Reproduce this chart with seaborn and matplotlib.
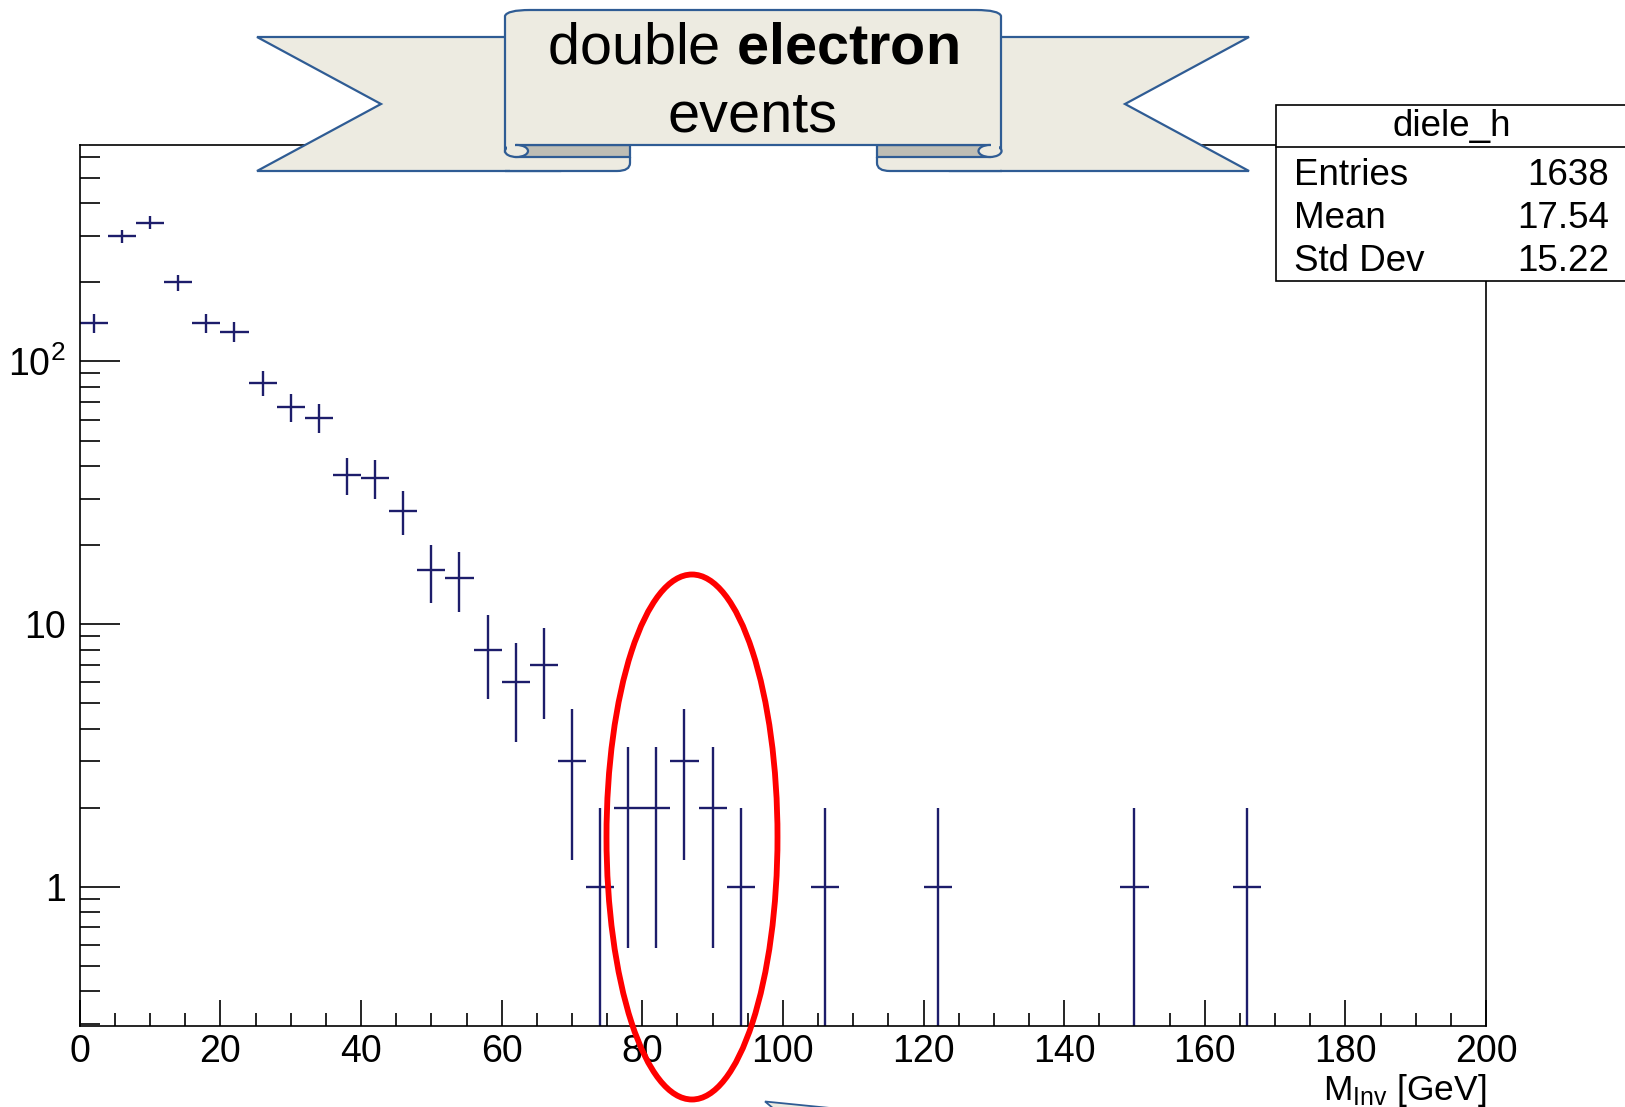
import numpy as np
import pandas as pd
import matplotlib
matplotlib.use("Agg")
import matplotlib.pyplot as plt
import seaborn as sns
from matplotlib.path import Path
from matplotlib.patches import PathPatch, Polygon, Rectangle, Ellipse
from matplotlib.ticker import (FixedLocator, FixedFormatter, LogLocator,
                               NullFormatter, MultipleLocator)

# ---- histogram content: 4 GeV bins, non-empty bins only ----
bin_centers = [2, 6, 10, 14, 18, 22, 26, 30, 34, 38, 42, 46, 50, 54, 58, 62,
               66, 70, 74, 78, 82, 86, 90, 94, 106, 122, 150, 166]
counts = [140, 300, 338, 200, 140, 130, 83, 67, 61, 37, 36, 27, 16, 15, 8, 6,
          7, 3, 1, 2, 2, 3, 2, 1, 1, 1, 1, 1]
bin_width = 4

x_range = [0, 200]
y_range = [0.295, 667]
y_major = [1, 10, 100]
y_major_labels = ["1", "10", "$10^{2}$"]
x_label = r"M$_{\mathrm{Inv}}$ [GeV]"

stats_title = "diele_h"
stats_names = ["Entries", "Mean", "Std Dev"]
stats_values = ["1638", "17.54", "15.22"]

banner_line1 = r"double $\mathbf{electron}$"
banner_line2 = "events"

# ---- style ----
sns.set_theme(style="white")
plt.rcParams["font.family"] = ["Liberation Sans", "DejaVu Sans"]
plt.rcParams["text.color"] = "black"
plt.rcParams["mathtext.fontset"] = "custom"
plt.rcParams["mathtext.rm"] = "Liberation Sans"
plt.rcParams["mathtext.it"] = "Liberation Sans:italic"
plt.rcParams["mathtext.bf"] = "Liberation Sans:bold"

W, H = 1625, 1107
fig = plt.figure(figsize=(W / 100, H / 100), dpi=100)
fig.patch.set_facecolor("white")

ax = fig.add_axes([79.8 / W, 1 - 1026 / H, (1486 - 79.8) / W, (1026 - 145) / H])
ax.set_facecolor("white")
ax.set_yscale("log")

df = pd.DataFrame({"x": bin_centers, "n": counts})
err = np.sqrt(df["n"].to_numpy(dtype=float))
low = np.where(df["n"] - err <= 0, df["n"] - 1e-4, err)

ink = "#1d1d6b"
ax.errorbar(df["x"], df["n"], xerr=bin_width / 2, yerr=[low, err],
            fmt="none", ecolor=ink, elinewidth=1.7, capsize=0)

ax.set_xlim(*x_range)
ax.set_ylim(*y_range)

ax.xaxis.set_major_locator(MultipleLocator(20))
ax.xaxis.set_minor_locator(MultipleLocator(5))
ax.yaxis.set_major_locator(FixedLocator(y_major))
ax.yaxis.set_major_formatter(FixedFormatter(y_major_labels))
ax.yaxis.set_minor_locator(LogLocator(base=10, subs=np.arange(2, 10), numticks=30))
ax.yaxis.set_minor_formatter(NullFormatter())

ax.tick_params(axis="both", which="both", direction="in", colors="black",
               width=1.2, labelsize=27, top=False, right=False,
               bottom=True, left=True)
ax.tick_params(axis="x", which="major", length=19, pad=6)
ax.tick_params(axis="x", which="minor", length=9.5)
ax.tick_params(axis="y", which="major", length=29, pad=10)
ax.tick_params(axis="y", which="minor", length=14.5)

for s in ax.spines.values():
    s.set_color("black")
    s.set_linewidth(1.2)
ax.set_xlabel("")
ax.set_ylabel("")

# ---- overlay in pixel coordinates (y pointing down) ----
ov = fig.add_axes([0, 0, 1, 1], zorder=5)
ov.set_xlim(0, W)
ov.set_ylim(H, 0)
ov.axis("off")
ov.patch.set_alpha(0)

ov.text(1486, 1100, x_label, ha="right", va="baseline", fontsize=25.5,
        color="black")

# statistics box
ov.add_patch(Rectangle((1276, 105), 370, 176, facecolor="white",
                       edgecolor="black", lw=1.2, clip_on=False, zorder=6))
ov.plot([1276, 1646], [147, 147], color="black", lw=1.2, zorder=7,
        clip_on=False)
ov.text(1452, 136, stats_title, ha="center", va="baseline", fontsize=26.5,
        color="black", zorder=8)
for i, (nm, val) in enumerate(zip(stats_names, stats_values)):
    yb = 185 + 43 * i
    ov.text(1294, yb, nm, ha="left", va="baseline", fontsize=26.5,
            color="black", zorder=8)
    ov.text(1609, yb, val, ha="right", va="baseline", fontsize=26.5,
            color="black", zorder=8)

# ribbon banner
fill = "#EDEBE1"
edge = "#2F5C94"
shade = "#BEBDB4"
lw = 1.6


def path_patch(verts, codes, **kw):
    return PathPatch(Path(verts, codes), **kw)


M, L, Q, Z = Path.MOVETO, Path.LINETO, Path.CURVE3, Path.CLOSEPOLY

# tails
ov.add_patch(Polygon([(257, 37), (560, 37), (560, 171), (257, 171), (381, 104)],
                     closed=True, fc=fill, ec=edge, lw=lw, zorder=10))
ov.add_patch(Polygon([(1249, 37), (950, 37), (950, 171), (1249, 171), (1125, 104)],
                     closed=True, fc=fill, ec=edge, lw=lw, zorder=10))

# lower loops of the folds
ov.add_patch(path_patch(
    [(510, 157), (630, 157), (630, 163), (630, 171), (617, 171), (510, 171), (510, 157)],
    [M, L, L, Q, Q, L, Z], fc=fill, ec="none", zorder=11))
ov.add_patch(path_patch(
    [(630, 157), (630, 163), (630, 171), (617, 171), (505, 171)],
    [M, L, Q, Q, L], fc="none", ec=edge, lw=lw, zorder=12))
ov.add_patch(path_patch(
    [(1000, 157), (877, 157), (877, 163), (877, 171), (890, 171), (1000, 171), (1000, 157)],
    [M, L, L, Q, Q, L, Z], fc=fill, ec="none", zorder=11))
ov.add_patch(path_patch(
    [(877, 157), (877, 163), (877, 171), (890, 171), (1002, 171)],
    [M, L, Q, Q, L], fc="none", ec=edge, lw=lw, zorder=12))

# shaded back sides of the folds
ov.add_patch(Rectangle((516, 145), 114, 12, fc=shade, ec=edge, lw=lw, zorder=13))
ov.add_patch(Rectangle((877, 145), 113, 12, fc=shade, ec=edge, lw=lw, zorder=13))

# central panel
ov.add_patch(path_patch(
    [(505, 151), (505, 16), (507, 10), (530, 10), (976, 10), (999, 10),
     (1001, 16), (1001, 151), (990, 145), (516, 145), (505, 151)],
    [M, L, Q, Q, L, Q, Q, L, L, L, Z],
    fc=fill, ec=edge, lw=lw, zorder=14))
ov.add_patch(Ellipse((516.5, 151), 23, 12, fc=fill, ec=edge, lw=lw, zorder=15))
ov.add_patch(Ellipse((990, 151), 23, 12, fc=fill, ec=edge, lw=lw, zorder=15))
ov.add_patch(Rectangle((507, 140), 8, 10, fc=fill, ec="none", zorder=15.5))
ov.add_patch(Rectangle((991, 140), 8, 10, fc=fill, ec="none", zorder=15.5))

ov.text(753, 64, banner_line1, ha="center", va="baseline", fontsize=41.5,
        color="black", zorder=16)
ov.text(753, 132, banner_line2, ha="center", va="baseline", fontsize=41.5,
        color="black", zorder=16)

# highlight around the Z peak region
ov.add_patch(Ellipse((692, 837), 171, 525, fill=False, ec="#FF0000", lw=4.2,
                     zorder=17))

# tip of a callout entering from below
ov.add_patch(Polygon([(765, 1101.5), (840, 1109), (774, 1109)], closed=True,
                     fc=fill, ec=edge, lw=1.3, zorder=17, clip_on=True))

fig.savefig("out.png", dpi=100, facecolor="white")
